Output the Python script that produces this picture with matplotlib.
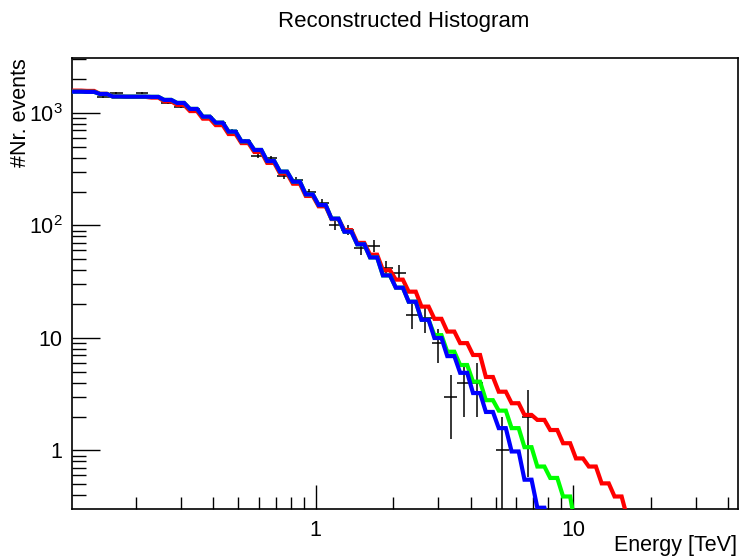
import numpy as np
import matplotlib
matplotlib.use("Agg")
import matplotlib.pyplot as plt
from matplotlib.ticker import FixedLocator, NullFormatter

plt.rcParams['font.family'] = ['Liberation Sans', 'DejaVu Sans']
plt.rcParams['mathtext.fontset'] = 'custom'
plt.rcParams['mathtext.rm'] = 'Liberation Sans'
plt.rcParams['mathtext.default'] = 'regular'

# Binning: equal widths in log10(E / TeV)
log_e_min = -0.95
log_bin_width = 0.05
n_bins = 52

# Observed counts per bin
counts = [1550, 1520, 1387, 1506, 1400, 1506, 1400, 1228, 1130, 1080,
          930, 820, 690, 560, 415, 398, 276, 254, 199, 158,
          101, 91, 63, 66, 42, 38, 16, 15, 9, 3,
          4, 4, 0, 1, 0, 2]

# Model predictions per bin
red_model = [1580, 1570, 1480, 1400, 1390, 1390, 1370, 1270, 1180, 1040,
             890, 780, 650, 540, 450, 360, 290, 235, 183, 148,
             114, 91, 70, 55, 40, 33, 25.8, 19, 14.8, 11.4,
             9.0, 7.06, 4.5, 3.33, 2.63, 2.07, 1.87, 1.52, 1.16, 0.85,
             0.72, 0.51, 0.39, 0.25]
green_model = [1546, 1540, 1475, 1400, 1396, 1396, 1390, 1306, 1228, 1086,
               927, 820, 683, 560, 469, 374, 301, 245, 189, 152,
               115, 88, 68, 52, 36, 28, 21, 14.5, 10.6, 7.55,
               5.75, 4.09, 2.8, 2.26, 1.58, 1.07, 0.72, 0.57, 0.39, 0.2]
blue_model = [1546, 1540, 1475, 1400, 1396, 1396, 1390, 1306, 1228, 1086,
              927, 820, 683, 560, 469, 374, 301, 245, 189, 152,
              115, 88, 68, 52, 36, 28, 21, 14.5, 10, 6.9,
              4.9, 3.24, 2.2, 1.58, 0.98, 0.55, 0.31, 0.2]

edges_log = log_e_min + log_bin_width * np.arange(n_bins + 1)
centers_log = 0.5 * (edges_log[:-1] + edges_log[1:])


def stepped_line(values, flat=0.55):
    """Polyline with a flat run across the middle of each bin."""
    v = np.asarray(values, dtype=float)
    c = centers_log[:len(v)]
    half = 0.5 * flat * log_bin_width
    xs = np.column_stack([c - half, c + half]).ravel()
    ys = np.repeat(v, 2)
    return 10 ** xs, ys


fig = plt.figure(figsize=(7.4, 5.6), dpi=100)
ax = fig.add_axes([72 / 740, 1 - 508.5 / 560, (738 - 72) / 740, (508.5 - 58) / 560])
ax.set_xscale('log')
ax.set_yscale('log')
ax.set_xlim(10 ** -0.947, 10 ** 1.641)
ax.set_ylim(0.305, 3080)

# Data with Poisson errors
cnt = np.asarray(counts, dtype=float)
ok = cnt > 0
xc = 10 ** centers_log[:len(cnt)]
xlo = xc - 10 ** edges_log[:len(cnt)]
xhi = 10 ** edges_log[1:len(cnt) + 1] - xc
err = np.sqrt(cnt)
ax.errorbar(xc[ok], cnt[ok], xerr=[xlo[ok], xhi[ok]],
            yerr=[np.minimum(err[ok], cnt[ok] * 0.9999), err[ok]],
            fmt='none', ecolor='black', elinewidth=1.1, capsize=0, zorder=2)

for vals, col in [(red_model, '#ff0000'), (green_model, '#00ff00'), (blue_model, '#0000ff')]:
    x, y = stepped_line(vals)
    ax.plot(x, y, color=col, lw=3.0, solid_joinstyle='miter', zorder=3)

# ROOT-like ticks
ax.tick_params(which='both', direction='in', top=False, right=False)
ax.tick_params(which='major', length=17, width=1.0, labelsize=15.5, pad=8)
ax.tick_params(which='minor', length=8.5, width=1.0)
ax.tick_params(axis='y', which='major', length=20, pad=7)
ax.tick_params(axis='y', which='minor', length=10)
ax.xaxis.set_major_locator(FixedLocator([1, 10]))
ax.xaxis.set_minor_locator(FixedLocator(
    [m * 10.0 ** d for d in (-1, 0, 1) for m in range(2, 10)]))
ax.xaxis.set_minor_formatter(NullFormatter())
ax.set_xticklabels(['1', '10'])
ax.yaxis.set_major_locator(FixedLocator([1, 10, 100, 1000]))
ax.yaxis.set_minor_locator(FixedLocator(
    [m * 10.0 ** d for d in (-1, 0, 1, 2, 3) for m in range(2, 10)]))
ax.yaxis.set_minor_formatter(NullFormatter())
ax.set_yticklabels(['1', '10', '$10^{2}$', '$10^{3}$'])
for s in ax.spines.values():
    s.set_linewidth(1.2)

fig.text(404 / 740, 1 - 22 / 560, 'Reconstructed Histogram', ha='center', va='center', fontsize=16)
fig.text(737 / 740, 1 - 545 / 560, 'Energy [TeV]', ha='right', va='center', fontsize=15.5)
fig.text(21 / 740, 1 - 58 / 560, '#Nr. events', ha='center', va='top', rotation=90, fontsize=15.5)

fig.savefig('out.png', dpi=100)
